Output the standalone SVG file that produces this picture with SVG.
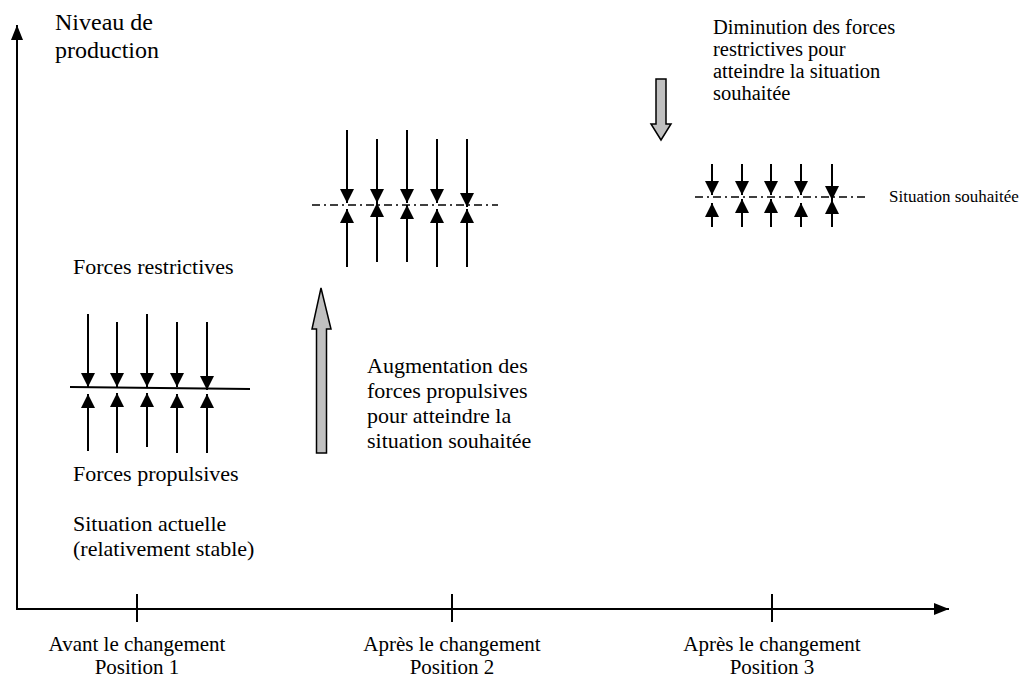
<svg xmlns="http://www.w3.org/2000/svg" width="1026" height="677" viewBox="0 0 1026 677">
<style>
text{font-family:"Liberation Serif","Times New Roman",serif;fill:#000}
.t22{font-size:22px}
.tb{font-size:21px}
.t21{font-size:20.5px}
.t25{font-size:24px}
.t16{font-size:17px}
.f{stroke:#000;stroke-width:2;fill:none}
.ax{stroke:#000;stroke-width:2;fill:none}
.dd{stroke:#000;stroke-width:1.5;fill:none;stroke-dasharray:8 4 2 4}
.gray{fill:#c0c0c0;stroke:#000;stroke-width:1.5}
</style>
<defs>
<marker id="ah" viewBox="0 0 14 14" refX="14" refY="7" markerWidth="14" markerHeight="14" markerUnits="userSpaceOnUse" orient="auto">
<path d="M0,0 L14,7 L0,14 z" fill="#000"/>
</marker>
<marker id="axh" viewBox="0 0 15 12" refX="15" refY="6" markerWidth="15" markerHeight="12" markerUnits="userSpaceOnUse" orient="auto">
<path d="M0,0 L15,6 L0,12 z" fill="#000"/>
</marker>
</defs>

<g id="axes">
<line class="ax" x1="17" y1="610" x2="17" y2="25" marker-end="url(#axh)"/>
<line class="ax" x1="16" y1="609" x2="949" y2="609" marker-end="url(#axh)"/>
<line class="ax" x1="137" y1="594" x2="137" y2="622" stroke-width="1.5"/>
<line class="ax" x1="452" y1="594" x2="452" y2="622" stroke-width="1.5"/>
<line class="ax" x1="772" y1="594" x2="772" y2="622" stroke-width="1.5"/>
<text class="t25" x="55" y="30">Niveau de</text>
<text class="t25" x="55" y="58">production</text>
<text class="tb" x="137" y="651" text-anchor="middle">Avant le changement</text>
<text class="tb" x="137" y="674" text-anchor="middle">Position 1</text>
<text class="tb" x="452" y="651" text-anchor="middle">Après le changement</text>
<text class="tb" x="452" y="674" text-anchor="middle">Position 2</text>
<text class="tb" x="772" y="651" text-anchor="middle">Après le changement</text>
<text class="tb" x="772" y="674" text-anchor="middle">Position 3</text>
</g>

<g id="position1">
<text class="t22" x="73" y="274">Forces restrictives</text>
<line x1="70" y1="387" x2="250" y2="389" stroke="#000" stroke-width="2"/>
<g class="connectors">
<line class="f" x1="88" y1="314" x2="88" y2="387" marker-end="url(#ah)"/>
<line class="f" x1="117" y1="322" x2="117" y2="387" marker-end="url(#ah)"/>
<line class="f" x1="147" y1="314" x2="147" y2="387" marker-end="url(#ah)"/>
<line class="f" x1="177" y1="322" x2="177" y2="387" marker-end="url(#ah)"/>
<line class="f" x1="207" y1="322" x2="207" y2="390" marker-end="url(#ah)"/>
<line class="f" x1="88" y1="451" x2="88" y2="394" marker-end="url(#ah)"/>
<line class="f" x1="117" y1="453" x2="117" y2="393" marker-end="url(#ah)"/>
<line class="f" x1="147" y1="447" x2="147" y2="393" marker-end="url(#ah)"/>
<line class="f" x1="177" y1="453" x2="177" y2="394" marker-end="url(#ah)"/>
<line class="f" x1="207" y1="453" x2="207" y2="394" marker-end="url(#ah)"/>
</g>
<text class="t22" x="73" y="481">Forces propulsives</text>
<text class="t22" x="73" y="531">Situation actuelle</text>
<text class="t22" x="73" y="556">(relativement stable)</text>
</g>

<g id="position2">
<line class="dd" x1="312" y1="205" x2="498" y2="205"/>
<g class="connectors">
<line class="f" x1="347" y1="130" x2="347" y2="203" marker-end="url(#ah)"/>
<line class="f" x1="377" y1="139" x2="377" y2="203" marker-end="url(#ah)"/>
<line class="f" x1="407" y1="130" x2="407" y2="203" marker-end="url(#ah)"/>
<line class="f" x1="437" y1="139" x2="437" y2="203" marker-end="url(#ah)"/>
<line class="f" x1="467" y1="139" x2="467" y2="207" marker-end="url(#ah)"/>
<line class="f" x1="347" y1="267" x2="347" y2="209" marker-end="url(#ah)"/>
<line class="f" x1="377" y1="262" x2="377" y2="203" marker-end="url(#ah)"/>
<line class="f" x1="407" y1="262" x2="407" y2="205" marker-end="url(#ah)"/>
<line class="f" x1="437" y1="267" x2="437" y2="209" marker-end="url(#ah)"/>
<line class="f" x1="467" y1="267" x2="467" y2="209" marker-end="url(#ah)"/>
</g>
</g>

<g id="augmentation">
<path class="gray" d="M321,288 L331,329 L326.5,329 L326.5,453 L316.5,453 L316.5,329 L312,329 Z"/>
<text class="t22" x="367" y="373">Augmentation des</text>
<text class="t22" x="367" y="398">forces propulsives</text>
<text class="t22" x="367" y="423">pour atteindre la</text>
<text class="t22" x="367" y="448">situation souhaitée</text>
</g>

<g id="diminution">
<path class="gray" d="M656,79 L666,79 L666,124 L671,124 L661,140 L651,124 L656,124 Z"/>
<text class="t21" x="713" y="34">Diminution des forces</text>
<text class="t21" x="713" y="56">restrictives pour</text>
<text class="t21" x="713" y="78">atteindre la situation</text>
<text class="t21" x="713" y="100">souhaitée</text>
</g>

<g id="position3">
<line class="dd" x1="695" y1="197" x2="866" y2="197" stroke-dasharray="7 5 2 5"/>
<g class="connectors">
<line class="f" x1="712" y1="164" x2="712" y2="195" marker-end="url(#ah)"/>
<line class="f" x1="742" y1="164" x2="742" y2="195" marker-end="url(#ah)"/>
<line class="f" x1="771" y1="164" x2="771" y2="195" marker-end="url(#ah)"/>
<line class="f" x1="801" y1="164" x2="801" y2="195" marker-end="url(#ah)"/>
<line class="f" x1="832" y1="164" x2="832" y2="200" marker-end="url(#ah)"/>
<line class="f" x1="712" y1="227" x2="712" y2="203" marker-end="url(#ah)"/>
<line class="f" x1="742" y1="227" x2="742" y2="199" marker-end="url(#ah)"/>
<line class="f" x1="771" y1="227" x2="771" y2="199" marker-end="url(#ah)"/>
<line class="f" x1="801" y1="227" x2="801" y2="203" marker-end="url(#ah)"/>
<line class="f" x1="832" y1="227" x2="832" y2="200" marker-end="url(#ah)"/>
</g>
<text class="t16" x="889" y="202">Situation souhaitée</text>
</g>
</svg>
